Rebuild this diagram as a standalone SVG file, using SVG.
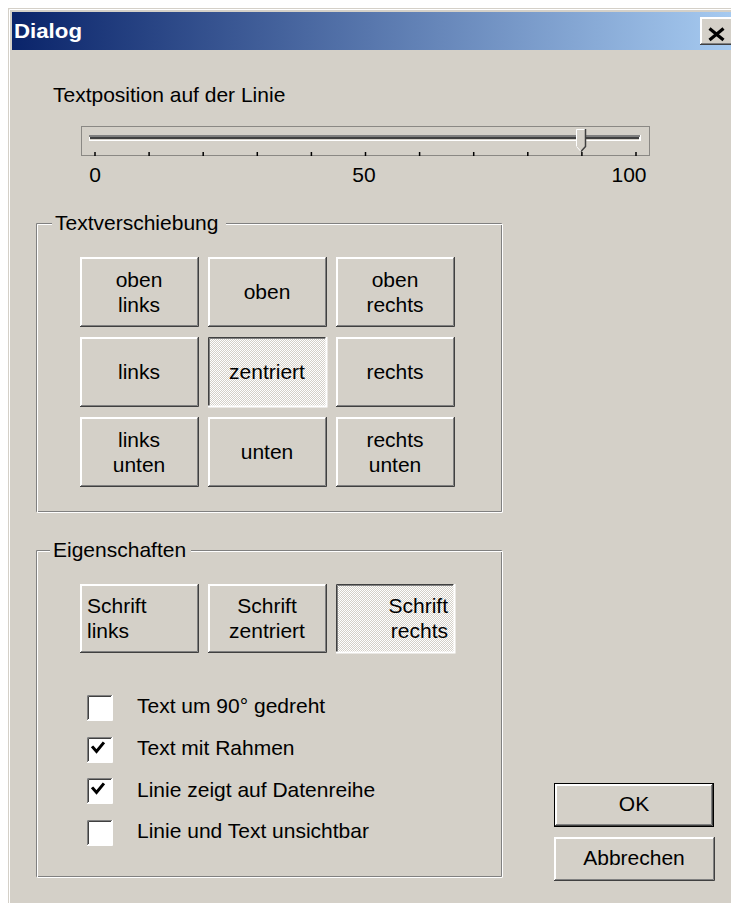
<svg xmlns="http://www.w3.org/2000/svg" width="731" height="903" viewBox="0 0 731 903">
<defs>
<linearGradient id="tb" x1="0" y1="0" x2="1" y2="0">
<stop offset="0" stop-color="#0A246A"/>
<stop offset="1" stop-color="#A6CAF0"/>
</linearGradient>
<pattern id="dith" width="2" height="2" patternUnits="userSpaceOnUse">
<rect width="2" height="2" fill="#D4D0C8"/>
<rect x="0" y="0" width="1" height="1" fill="#FFFFFF"/>
<rect x="1" y="1" width="1" height="1" fill="#FFFFFF"/>
</pattern>
<style>
text{font-family:"Liberation Sans",Arial,sans-serif;font-size:21px;fill:#000}
.c{text-anchor:middle}
.r{text-anchor:end}
.face{fill:#D4D0C8}
.hl{stroke:#FFFFFF;stroke-width:2;fill:none}
.sh1{stroke:#404040;stroke-width:1;fill:none}
.sh2{stroke:#808080;stroke-width:1;fill:none}
.etchD{stroke:#808080;stroke-width:1;fill:none}
.etchL{stroke:#FFFFFF;stroke-width:1;fill:none}
.cb{fill:#FFFFFF}
.cbl{stroke:#FFFFFF;stroke-width:1;fill:none}
.chk{stroke:#000;stroke-width:3;fill:none;stroke-linecap:square}
</style>
</defs>
<rect width="731" height="903" fill="#FFFFFF"/>
<rect x="8" y="8" width="730" height="900" fill="#D4D0C8"/>
<path d="M9.5 903V9.5H731" stroke="#FFFFFF" stroke-width="1" fill="none"/>
<g id="titlebar">
<rect x="12" y="12" width="719" height="38" fill="url(#tb)"/>
<text x="14" y="38" style="font-weight:bold;font-size:20px;fill:#FFFFFF" textLength="68" lengthAdjust="spacingAndGlyphs">Dialog</text>
<g id="close">
<rect x="700" y="17" width="40" height="28" class="face"/>
<path d="M701 44V18H740" class="hl"/>
<path d="M700 44.5H740" class="sh1"/>
<path d="M701 43.5H740" class="sh2"/>
<path d="M709.5 28.5L723.5 40M723.5 28.5L709.5 40" stroke="#000" stroke-width="3.2"/>
</g>
</g>

<g id="slider">
<text x="53" y="102">Textposition auf der Linie</text>
<rect x="81.5" y="126.5" width="568" height="29" fill="none" stroke="#404040" stroke-width="1" stroke-dasharray="1,1"/>
<rect x="89" y="135" width="552" height="6" fill="#FFFFFF"/>
<rect x="89" y="135" width="551" height="2" fill="#808080"/>
<rect x="90" y="137" width="549" height="2" fill="#404040"/>
<rect x="90" y="139" width="549" height="1" fill="#D4D0C8"/>
<g id="thumb">
<path d="M576 129H586V146L581 152L576 146Z" fill="#D4D0C8"/>
<path d="M576.5 146V129.5H585" stroke="#FFFFFF" stroke-width="1" fill="none"/>
<path d="M585.5 129V146.5L581 151.5" stroke="#404040" stroke-width="1.5" fill="none"/>
<path d="M576.5 146.5L580.5 151" stroke="#FFFFFF" stroke-width="1" fill="none"/>
</g>
<g id="ticks" stroke="#000" stroke-width="1.5">
<path d="M95 152v4M149.1 152v4M203.2 152v4M257.3 152v4M311.4 152v4M365.5 152v4M419.6 152v4M473.7 152v4M527.8 152v4M581.9 152v4M636 152v4"/>
</g>
<text x="95" y="182" class="c">0</text>
<text x="364" y="182" class="c">50</text>
<text x="629" y="182" class="c">100</text>
</g>

<g id="grp-textverschiebung">
<path d="M52 223.5H36.5V511.5H501.5V223.5H226" class="etchD"/>
<path d="M52 224.5H37.5V512.5H502.5M502.5 512V224.5H226" class="etchL"/>
<text x="55" y="230">Textverschiebung</text>
</g>

<g id="btn-oben-links">
<rect x="80" y="257" width="118" height="70" class="face"/>
<path d="M81 326V258H197" class="hl"/>
<path d="M80 326.5H198.5V257" class="sh1"/>
<path d="M81 325.5H197.5V258" class="sh2"/>
<text x="139" y="287" class="c">oben</text>
<text x="139" y="312" class="c">links</text>
</g>
<g id="btn-oben">
<rect x="208" y="257" width="118" height="70" class="face"/>
<path d="M209 326V258H325" class="hl"/>
<path d="M208 326.5H326.5V257" class="sh1"/>
<path d="M209 325.5H325.5V258" class="sh2"/>
<text x="267" y="299" class="c">oben</text>
</g>
<g id="btn-oben-rechts">
<rect x="336" y="257" width="118" height="70" class="face"/>
<path d="M337 326V258H453" class="hl"/>
<path d="M336 326.5H454.5V257" class="sh1"/>
<path d="M337 325.5H453.5V258" class="sh2"/>
<text x="395" y="287" class="c">oben</text>
<text x="395" y="312" class="c">rechts</text>
</g>

<g id="btn-links">
<rect x="80" y="337" width="118" height="70" class="face"/>
<path d="M81 406V338H197" class="hl"/>
<path d="M80 406.5H198.5V337" class="sh1"/>
<path d="M81 405.5H197.5V338" class="sh2"/>
<text x="139" y="379" class="c">links</text>
</g>
<g id="btn-zentriert">
<rect x="208" y="337" width="118" height="70" fill="url(#dith)"/>
<path d="M208.5 407V337.5H326" class="sh1"/>
<path d="M209.5 406V338.5H325" class="sh2"/>
<path d="M208 406.5H326.5V337" class="hl" stroke-width="1"/>
<text x="267" y="379" class="c">zentriert</text>
</g>
<g id="btn-rechts">
<rect x="336" y="337" width="118" height="70" class="face"/>
<path d="M337 406V338H453" class="hl"/>
<path d="M336 406.5H454.5V337" class="sh1"/>
<path d="M337 405.5H453.5V338" class="sh2"/>
<text x="395" y="379" class="c">rechts</text>
</g>

<g id="btn-links-unten">
<rect x="80" y="417" width="118" height="70" class="face"/>
<path d="M81 486V418H197" class="hl"/>
<path d="M80 486.5H198.5V417" class="sh1"/>
<path d="M81 485.5H197.5V418" class="sh2"/>
<text x="139" y="447" class="c">links</text>
<text x="139" y="472" class="c">unten</text>
</g>
<g id="btn-unten">
<rect x="208" y="417" width="118" height="70" class="face"/>
<path d="M209 486V418H325" class="hl"/>
<path d="M208 486.5H326.5V417" class="sh1"/>
<path d="M209 485.5H325.5V418" class="sh2"/>
<text x="267" y="459" class="c">unten</text>
</g>
<g id="btn-rechts-unten">
<rect x="336" y="417" width="118" height="70" class="face"/>
<path d="M337 486V418H453" class="hl"/>
<path d="M336 486.5H454.5V417" class="sh1"/>
<path d="M337 485.5H453.5V418" class="sh2"/>
<text x="395" y="447" class="c">rechts</text>
<text x="395" y="472" class="c">unten</text>
</g>

<g id="grp-eigenschaften">
<path d="M50 550.5H36.5V876.5H501.5V550.5H191" class="etchD"/>
<path d="M50 551.5H37.5V877.5H502.5M502.5 877V551.5H191" class="etchL"/>
<text x="53" y="557">Eigenschaften</text>
</g>

<g id="btn-schrift-links">
<rect x="80" y="584" width="118" height="69" class="face"/>
<path d="M81 652V585H197" class="hl"/>
<path d="M80 652.5H198.5V584" class="sh1"/>
<path d="M81 651.5H197.5V585" class="sh2"/>
<text x="87" y="613">Schrift</text>
<text x="87" y="638">links</text>
</g>
<g id="btn-schrift-zentriert">
<rect x="208" y="584" width="118" height="69" class="face"/>
<path d="M209 652V585H325" class="hl"/>
<path d="M208 652.5H326.5V584" class="sh1"/>
<path d="M209 651.5H325.5V585" class="sh2"/>
<text x="267" y="613" class="c">Schrift</text>
<text x="267" y="638" class="c">zentriert</text>
</g>
<g id="btn-schrift-rechts">
<rect x="336" y="584" width="118" height="69" fill="url(#dith)"/>
<path d="M336.5 653V584.5H454" class="sh1"/>
<path d="M337.5 652V585.5H453" class="sh2"/>
<path d="M336 652.5H454.5V584" class="hl" stroke-width="1"/>
<text x="448" y="613" class="r">Schrift</text>
<text x="448" y="638" class="r">rechts</text>
</g>

<g id="cb-gedreht">
<rect x="87" y="695" width="25" height="25" class="cb"/>
<path d="M87.5 720V695.5H112" class="sh2"/>
<path d="M88.5 719V696.5H111" class="sh1" stroke-width="1.5"/>
<path d="M87 720.5H112.5V695" class="cbl"/>
<text x="137" y="713">Text um 90° gedreht</text>
</g>
<g id="cb-rahmen">
<rect x="87" y="737" width="25" height="25" class="cb"/>
<path d="M87.5 762V737.5H112" class="sh2"/>
<path d="M88.5 761V738.5H111" class="sh1" stroke-width="1.5"/>
<path d="M87 762.5H112.5V737" class="cbl"/>
<path d="M93 747.5L96.5 751.5L103 743.5" class="chk"/>
<text x="137" y="755">Text mit Rahmen</text>
</g>
<g id="cb-datenreihe">
<rect x="87" y="778" width="25" height="25" class="cb"/>
<path d="M87.5 803V778.5H112" class="sh2"/>
<path d="M88.5 802V779.5H111" class="sh1" stroke-width="1.5"/>
<path d="M87 803.5H112.5V778" class="cbl"/>
<path d="M93 788.5L96.5 792.5L103 784.5" class="chk"/>
<text x="137" y="797">Linie zeigt auf Datenreihe</text>
</g>
<g id="cb-unsichtbar">
<rect x="87" y="820" width="25" height="25" class="cb"/>
<path d="M87.5 845V820.5H112" class="sh2"/>
<path d="M88.5 844V821.5H111" class="sh1" stroke-width="1.5"/>
<path d="M87 845.5H112.5V820" class="cbl"/>
<text x="137" y="838">Linie und Text unsichtbar</text>
</g>

<g id="btn-ok">
<rect x="554" y="783" width="160" height="44" class="face"/>
<rect x="554.5" y="783.5" width="159" height="43" fill="none" stroke="#000" stroke-width="1"/>
<path d="M556 825V785H712" class="hl"/>
<path d="M555 825.5H712.5V784" class="sh1"/>
<path d="M556 824.5H711.5V785" class="sh2"/>
<text x="634" y="811" class="c">OK</text>
</g>
<g id="btn-abbrechen">
<rect x="554" y="837" width="160" height="44" class="face"/>
<path d="M555 880V838H713" class="hl"/>
<path d="M554 880.5H714.5V837" class="sh1"/>
<path d="M555 879.5H713.5V838" class="sh2"/>
<text x="634" y="865" class="c">Abbrechen</text>
</g>
<g id="connectors"/>
</svg>
